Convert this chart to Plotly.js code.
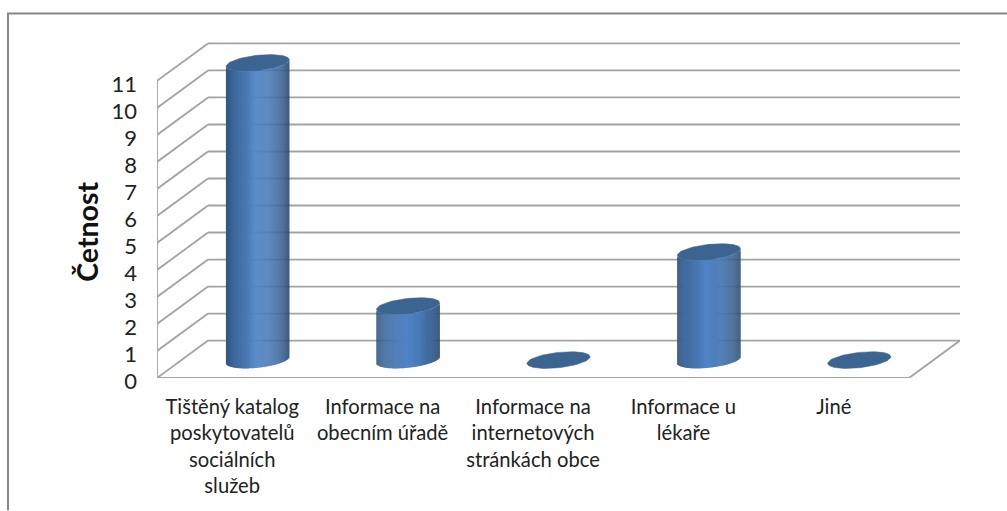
<!DOCTYPE html>
<html>
<head>
<meta charset="utf-8">
<script src="https://cdn.plot.ly/plotly-3.0.1.min.js"></script>
<style>html,body{margin:0;padding:0;background:#fff;overflow:hidden}</style>
</head>
<body>
<div id="chart" style="width:1007px;height:511px"></div>
<script>
const categories = [
  ["Tištěný katalog", "poskytovatelů", "sociálních", "služeb"],
  ["Informace na", "obecním úřadě"],
  ["Informace na", "internetových", "stránkách obce"],
  ["Informace u", "lékaře"],
  ["Jiné"]
];
const values = [11, 2, 0, 4, 0];
const yTicks = [0, 1, 2, 3, 4, 5, 6, 7, 8, 9, 10, 11];
const yTitle = "Četnost";

// Oblique projection, expressed in axis units
const pxX = 150.4, pxY = 27.05;
const depthX = 51 / pxX, depthY = 37.5 / pxY;
const radX = 31.6 / pxX, radY = 7.7 / pxY, tilt = 3.3 / pxY;
const n = categories.length;

const stops = [[0,[47,84,128]],[0.12,[60,103,155]],[0.3,[72,118,176]],[0.47,[80,132,198]],
               [0.7,[72,120,180]],[0.88,[60,100,148]],[1,[46,78,116]]];
function shade(t){
  for(let i=1;i<stops.length;i++){
    if(t<=stops[i][0]){
      const a=stops[i-1],b=stops[i],f=(t-a[0])/(b[0]-a[0]);
      const c=a[1].map((v,k)=>Math.round(v+(b[1][k]-v)*f));
      return `rgb(${c[0]},${c[1]},${c[2]})`;
    }
  }
  return 'rgb(46,78,116)';
}
const gridColor = '#a3a3a3';
const shapes = [];
function seg(x0,y0,x1,y1){
  shapes.push({type:'line',layer:'below',xref:'x',yref:'y',x0,y0,x1,y1,line:{color:gridColor,width:1.8}});
}
yTicks.forEach(v=>{
  seg(depthX,v+depthY,n+depthX,v+depthY);
  seg(0,v,depthX,v+depthY);
});
seg(0,0,0,yTicks[yTicks.length-1]);
seg(0,0,n,0);
seg(n,0,n+depthX,depthY);

// Outer frame in paper coordinates
const W=1007,H=511,mL=157,mR=47,mT=40,mB=132.5;
const px=x=>(x-mL)/(W-mL-mR), py=y=>1-(y-mT)/(H-mT-mB);
shapes.push({type:'path',xref:'paper',yref:'paper',layer:'below',
  path:`M ${px(8)} ${py(511)} L ${px(8)} ${py(13.5)} L ${px(1007)} ${py(13.5)}`,
  line:{color:'#868686',width:2}});

// Cylinder bodies as thin bars, top and base caps as filled outlines
const bx=[],by=[],bb=[],bc=[];
const traces=[];
const strips=64;
values.forEach((val,i)=>{
  const cx=i+0.5+depthX/2, cy=depthY/2-0.8/pxY;
  for(let s=0;s<strips;s++){
    const u=(s+0.5)/strips*2-1;
    const low=-radY*Math.sqrt(Math.max(0,1-u*u))+tilt*u;
    if(val>0){
      bx.push(cx+u*radX); bb.push(cy+low); by.push(val); bc.push(shade((u+1)/2));
    }
  }
  const ex=[],ey=[];
  for(let a=0;a<=72;a++){
    const t=a/72*2*Math.PI;
    ex.push(cx+radX*Math.cos(t));
    ey.push(cy+val+radY*Math.sin(t)+tilt*Math.cos(t));
  }
  traces.push({type:'scatter',mode:'lines',x:ex,y:ey,fill:'toself',fillcolor:'#3c6491',
    line:{color:'#3c6491',width:0.5},hoverinfo:'skip',showlegend:false});
});
traces.unshift({type:'bar',x:bx,y:by,base:bb,width:bx.map(()=>1.3/pxX),
  marker:{color:bc,line:{width:0}},hoverinfo:'skip',showlegend:false});

const layout={
  width:W,height:H,paper_bgcolor:'#fff',plot_bgcolor:'rgba(0,0,0,0)',
  margin:{l:mL,r:mR,t:mT,b:mB,pad:0},
  barmode:'overlay',showlegend:false,shapes,
  font:{family:'Lato, "Open Sans", sans-serif',color:'#222'},
  xaxis:{range:[0,n+depthX],showgrid:false,zeroline:false,showline:false,ticks:'',
    tickmode:'array',tickvals:categories.map((_,i)=>i+0.5),
    ticktext:categories.map(c=>c.map(l=>`<span style="font-size:20.2px">${l}</span>`).join('<br>')),
    tickangle:0,tickfont:{size:20.5,family:'Lato, sans-serif',color:'#222'},ticklabelstandoff:14},
  yaxis:{range:[0,(H-mB-mT)/pxY],showgrid:false,zeroline:false,showline:false,ticks:'',
    tickmode:'array',tickvals:yTicks,ticktext:yTicks.map(String),
    tickfont:{size:22,family:'Lato, sans-serif',color:'#222'},ticklabelstandoff:19,ticklabelshift:3},
  annotations:[{text:yTitle,xref:'paper',yref:'paper',x:px(87),y:py(232),textangle:-90,showarrow:false,
    xanchor:'center',yanchor:'middle',font:{size:28.5,family:'Lato, sans-serif',color:'#111',weight:'bold'}}]
};
Plotly.newPlot('chart',traces,layout,{displayModeBar:false,staticPlot:true});
</script>
</body>
</html>
